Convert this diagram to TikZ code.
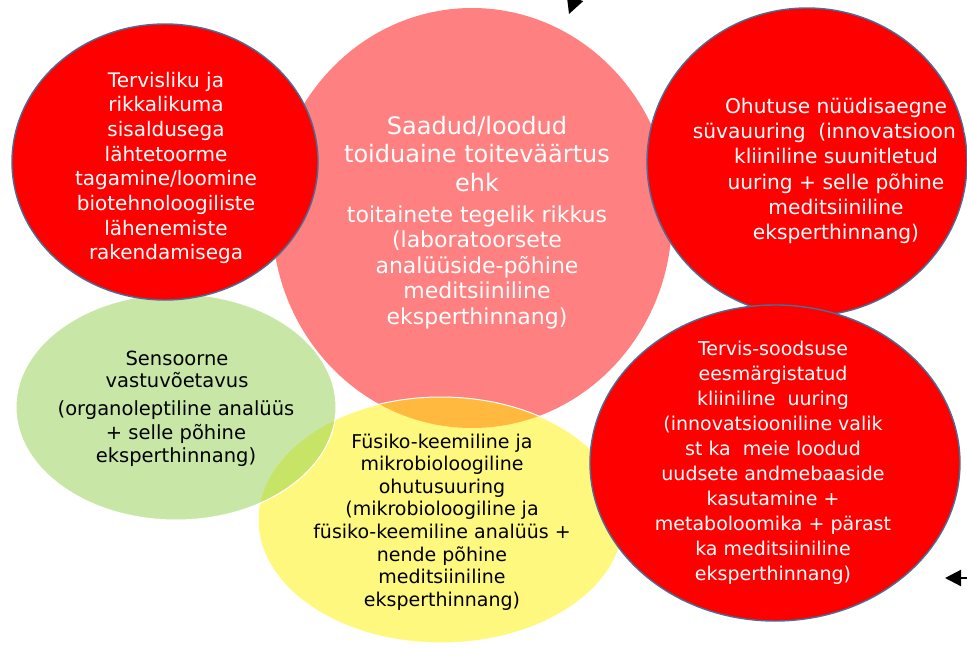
\documentclass[tikz,border=0pt]{standalone}
\usepackage{fontspec}
\setmainfont{DejaVu Sans}
\usetikzlibrary{arrows.meta}
\definecolor{rimblue}{HTML}{41719C}
\definecolor{leafgreen}{HTML}{92D050}
\tikzset{
  redblob/.style={fill=red, draw=rimblue, line width=1.4pt},
  glassblob/.style={fill opacity=0.5, draw=white, line width=1pt},
  lighttext/.style={text=white, align=center, inner sep=0pt},
  darktext/.style={text=black, align=center, inner sep=0pt},
  pointer/.style={line width=2.2pt, -{Triangle[length=#1,width=#1]}},
}
\newcommand{\txtsize}[2]{\fontsize{#1}{#2}\selectfont}
\begin{document}
\begin{tikzpicture}[x=1pt,y=-1pt]
	\useasboundingbox (0,0) rectangle (967,648);
	\clip (0,0) rectangle (967,648);
	% the circles, back to front
	\fill[red!50] (472,218) ellipse [x radius=200, y radius=210];
	\filldraw[glassblob, fill=yellow] (441,520) ellipse [x radius=183, y radius=123];
	\filldraw[glassblob, fill=leafgreen] (176,407) ellipse [x radius=160, y radius=113];
	\filldraw[redblob] (165,162) ellipse [x radius=153, y radius=138];
	\filldraw[redblob] (807,162) ellipse [x radius=160, y radius=154];
	\filldraw[redblob] (775,463) ellipse [x radius=185, y radius=158];
	% texts
	\node (raw) at (166,168) [lighttext, font=\txtsize{20}{24.7}]
		{Tervisliku ja\\rikkalikuma\\sisaldusega\\lähtetoorme\\tagamine/loomine\\biotehnoloogiliste\\lähenemiste\\rakendamisega};
	\node (value) at (477,154) [lighttext, font=\txtsize{24}{28.5}]
		{Saadud/loodud\\toiduaine toiteväärtus\\ehk};
	\node (nutrients) at (477,267) [lighttext, font=\txtsize{22}{25.5}]
		{toitainete tegelik rikkus\\(laboratoorsete\\analüüside-põhine\\meditsiiniline\\eksperthinnang)};
	\node (safety) at (836,171) [lighttext, font=\txtsize{20.2}{25.2}]
		{Ohutuse nüüdisaegne\\süvauuring\ \ (innovatsioon +\\kliiniline suunitletud\\uuring + selle põhine\\meditsiiniline\\eksperthinnang)};
	\node (sensory) at (177,369) [darktext, font=\txtsize{19.5}{22}]
		{Sensoorne\\vastuvõetavus};
	\node (organo) at (176,434) [darktext, font=\txtsize{19.5}{23.5}]
		{(organoleptiline analüüs\\+ selle põhine\\eksperthinnang)};
	\node (micro) at (442,522) [darktext, font=\txtsize{19}{22.6}]
		{Füsiko-keemiline ja\\mikrobioloogiline\\ohutusuuring\\(mikrobioloogiline ja\\füsiko-keemiline analüüs +\\nende põhine\\meditsiiniline\\eksperthinnang)};
	\node (clinic) at (773,463) [lighttext, font=\txtsize{19}{25}]
		{Tervis-soodsuse\\eesmärgistatud\\kliiniline\ \ uuring\\(innovatsiooniline valik\\st ka\ \ meie loodud\\uudsete andmebaaside\\kasutamine +\\metaboloomika + pärast\\ka meditsiiniline\\eksperthinnang)};
	% stray arrows coming in from outside the frame
	\coordinate (topfrom) at (590,-42);
	\coordinate (topto) at (569,14);
	\coordinate (sidefrom) at (985,578);
	\coordinate (sideto) at (945,578);
	\draw[pointer=17pt] (topfrom) -- (topto);
	\draw[pointer=16pt] (sidefrom) -- (sideto);
\end{tikzpicture}
\end{document}
